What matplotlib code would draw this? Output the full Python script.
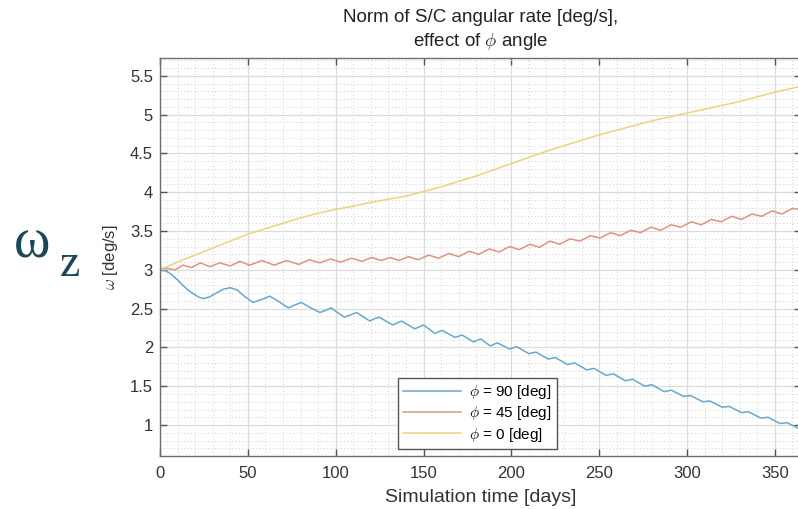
"""
Norm of S/C angular rate, effect of phi angle
"""
import matplotlib
matplotlib.use("Agg")
import matplotlib.pyplot as plt
from matplotlib.ticker import MultipleLocator

plt.rcParams["font.family"] = ["Liberation Sans", "DejaVu Sans"]
plt.rcParams["mathtext.fontset"] = "cm"

# phi = 90 deg (day, deg/s)
days_90 = [0, 3, 6, 10, 13, 16, 19, 22, 24.5, 28, 32, 36, 40, 44, 48, 53,
           58, 62.5, 67, 73, 77, 80.5, 85, 91, 94.5, 97.5, 101, 105, 108.5,
           112, 116, 119.5, 122, 125, 128.5, 132.5, 137.5, 145, 150, 156.5,
           160.5, 168, 172, 178.5, 182.5, 188, 192, 199, 203, 210, 214, 221,
           225, 232, 236, 243, 247, 254, 258, 265, 269, 276, 280, 287, 291,
           298, 302, 309, 313, 320, 324, 331, 335, 342, 346, 353, 357, 365]
rate_90 = [3.00, 2.99, 2.95, 2.87, 2.80, 2.74, 2.69, 2.65, 2.63, 2.65, 2.70,
           2.75, 2.77, 2.74, 2.66, 2.58, 2.62, 2.66, 2.60, 2.51, 2.55, 2.58,
           2.52, 2.45, 2.48, 2.51, 2.45, 2.39, 2.42, 2.45, 2.39, 2.34, 2.37,
           2.39, 2.34, 2.29, 2.34, 2.24, 2.29, 2.18, 2.22, 2.13, 2.16, 2.07,
           2.11, 2.02, 2.06, 1.98, 2.01, 1.92, 1.94, 1.85, 1.87, 1.78, 1.80,
           1.71, 1.73, 1.64, 1.66, 1.57, 1.59, 1.50, 1.52, 1.43, 1.45, 1.37,
           1.38, 1.30, 1.31, 1.23, 1.24, 1.16, 1.17, 1.09, 1.10, 1.02, 1.03,
           0.94]

# phi = 45 deg
days_45 = [0, 4, 8.5, 13, 18, 23, 28.5, 34, 40, 45.5, 51, 58, 65, 72, 79, 85,
           91, 97, 103, 109, 115, 120.5, 126, 131, 136, 141.5, 147, 153,
           158.5, 164.5, 170, 176, 181.5, 187.5, 193, 199, 204.5, 210.5, 216,
           222, 227.5, 233.5, 239, 245, 250.5, 256.5, 262, 268, 273.5, 279.5,
           285, 291, 296.5, 302.5, 308, 314, 319.5, 325.5, 331, 337, 342.5,
           348.5, 354, 360, 365]
rate_45 = [3.02, 3.02, 3.00, 3.06, 3.03, 3.09, 3.04, 3.09, 3.05, 3.11, 3.06,
           3.12, 3.06, 3.12, 3.07, 3.13, 3.09, 3.14, 3.10, 3.15, 3.11, 3.16,
           3.12, 3.16, 3.12, 3.17, 3.13, 3.19, 3.15, 3.21, 3.17, 3.24, 3.20,
           3.27, 3.23, 3.30, 3.26, 3.33, 3.29, 3.37, 3.33, 3.40, 3.37, 3.44,
           3.41, 3.48, 3.44, 3.51, 3.48, 3.55, 3.51, 3.58, 3.55, 3.62, 3.58,
           3.65, 3.62, 3.69, 3.65, 3.72, 3.69, 3.76, 3.72, 3.79, 3.78]

# phi = 0 deg
days_0 = [0, 10, 20, 30, 40, 50, 60, 70, 80, 90, 100, 110, 120, 130, 140,
          150, 160, 170, 180, 190, 200, 210, 220, 230, 240, 250, 260, 270,
          280, 290, 300, 310, 320, 330, 340, 350, 360, 365]
rate_0 = [3.00, 3.10, 3.19, 3.28, 3.37, 3.46, 3.53, 3.60, 3.67, 3.73, 3.78,
          3.82, 3.87, 3.91, 3.95, 4.01, 4.07, 4.14, 4.21, 4.29, 4.37, 4.45,
          4.53, 4.60, 4.67, 4.74, 4.80, 4.86, 4.92, 4.97, 5.02, 5.07, 5.12,
          5.17, 5.23, 5.29, 5.34, 5.37]

labels = [r"$\phi$ = 90 [deg]", r"$\phi$ = 45 [deg]", r"$\phi$ = 0 [deg]"]
colors = ["#6aa6cf", "#dc9480", "#eed27a"]
x_ticks = [0, 50, 100, 150, 200, 250, 300, 350]
y_ticks = [1, 1.5, 2, 2.5, 3, 3.5, 4, 4.5, 5, 5.5]


def draw():
    fig = plt.figure(figsize=(7.98, 5.09), dpi=100)
    ax = fig.add_axes([0.2005, 0.104, 0.8035, 0.782])

    for d, r, lab, c in zip([days_90, days_45, days_0],
                            [rate_90, rate_45, rate_0], labels, colors):
        ax.plot(d, r, color=c, lw=1.1, label=lab)

    ax.set_xlim(0, 365)
    ax.set_ylim(0.6, 5.73)
    ax.set_xticks(x_ticks)
    ax.set_xticklabels([str(t) for t in x_ticks])
    ax.set_yticks(y_ticks)
    ax.set_yticklabels([f"{t:g}" for t in y_ticks])
    ax.xaxis.set_minor_locator(MultipleLocator(10))
    ax.yaxis.set_minor_locator(MultipleLocator(0.1))

    ax.grid(which="major", color="#dcdcdc", lw=0.9)
    ax.grid(which="minor", color="#cfcfcf", lw=0.7, ls=(0, (1, 2.5)))
    ax.set_axisbelow(True)

    ax.tick_params(which="major", direction="in", length=5, width=1,
                   color="#555555", labelcolor="#333333", labelsize=12,
                   top=True, right=True)
    ax.tick_params(axis="x", which="major", pad=7)
    ax.tick_params(axis="y", which="major", pad=5)
    ax.tick_params(which="minor", length=0)
    for s in ax.spines.values():
        s.set_color("#6e6e6e")
        s.set_linewidth(1)

    ax.set_title("Norm of S/C angular rate [deg/s],\neffect of $\\phi$ angle",
                 fontsize=13.5, color="#222222", pad=9, linespacing=1.3)
    ax.set_xlabel("Simulation time [days]", fontsize=14, color="#333333",
                  labelpad=6)
    ax.set_ylabel(r"$\omega$ [deg/s]", fontsize=12, color="#333333",
                  labelpad=7)

    leg = ax.legend(loc="lower left", bbox_to_anchor=(0.371, 0.018),
                    borderaxespad=0, fontsize=11, handlelength=3.8,
                    fancybox=False, framealpha=1, edgecolor="#555555",
                    borderpad=0.35, labelspacing=0.2, handletextpad=0.5)
    leg.get_frame().set_linewidth(1)

    # big omega_z annotation at left
    fig.text(14 / 798, 1 - 258 / 509, "\u03c9", fontsize=40,
             family="Liberation Serif", color="#1b4759", va="baseline")
    fig.text(60 / 798, 1 - 276 / 509, "z", fontsize=33,
             family="Liberation Serif", color="#1b4759", va="baseline")

    fig.savefig("out.png", dpi=100)


def main():
    draw()


if __name__ == "__main__":
    main()
